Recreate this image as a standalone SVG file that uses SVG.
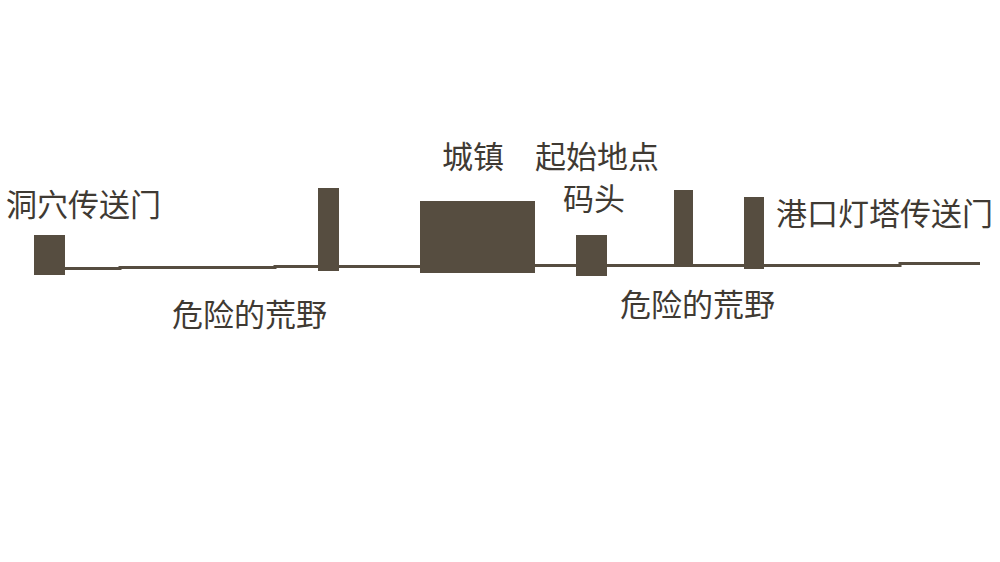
<svg xmlns="http://www.w3.org/2000/svg" width="1000" height="562" viewBox="0 0 1000 562">
<style>
.b{fill:#564d40}
.l{fill:none;stroke:#564d40;stroke-width:3}
.t{font-family:"Noto Sans CJK SC","Noto Sans CJK JP",sans-serif;font-size:31px;fill:#3f3a33}
</style>
<rect width="1000" height="562" fill="#ffffff"/>
<g id="ground">
<polyline class="l" points="60,268.5 120,268.5 120,267.5 275,267.5 275,266.5 420,266.5"/>
<polyline class="l" points="535,265.5 900,265.5 900,263.5 980,263.5"/>
</g>
<g id="cave-portal"><rect class="b" x="34" y="235" width="31" height="40"/><text class="t" x="6" y="216">洞穴传送门</text></g>
<g id="post1"><rect class="b" x="318" y="188" width="21" height="83"/></g>
<g id="town"><rect class="b" x="420" y="201" width="115" height="72"/><text class="t" x="442" y="168">城镇</text></g>
<g id="dock"><rect class="b" x="576" y="235" width="31" height="41"/><text class="t" x="535" y="168">起始地点</text><text class="t" x="563" y="210">码头</text></g>
<g id="post2"><rect class="b" x="674" y="190" width="19" height="77"/></g>
<g id="lighthouse-portal"><rect class="b" x="744" y="197" width="20" height="72"/><text class="t" x="776" y="225">港口灯塔传送门</text></g>
<text class="t" x="172" y="326">危险的荒野</text>
<text class="t" x="620" y="316">危险的荒野</text>
</svg>
